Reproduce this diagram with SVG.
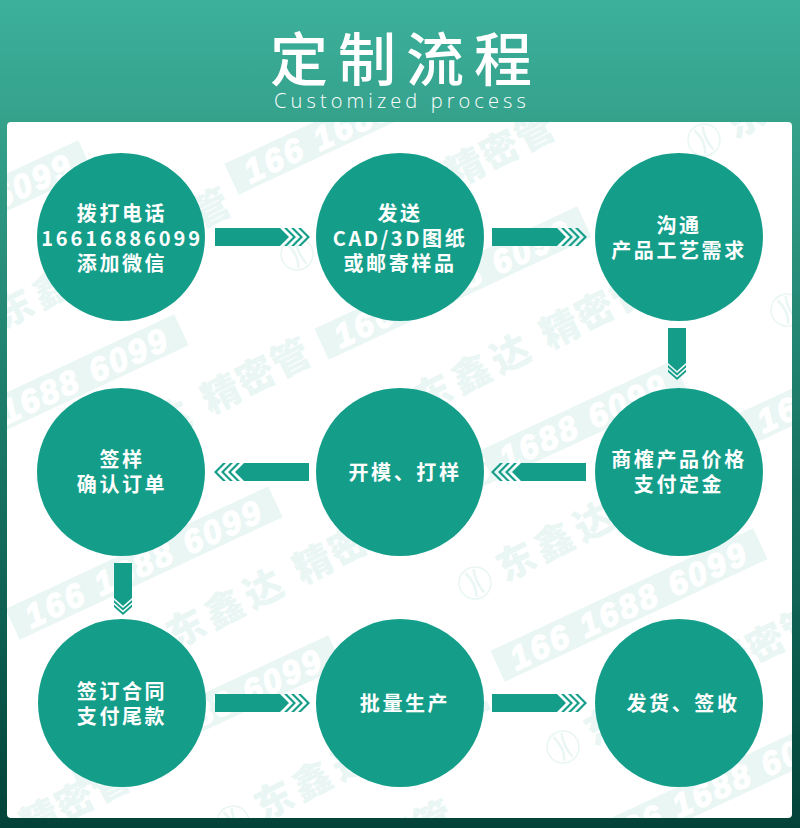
<svg xmlns="http://www.w3.org/2000/svg" xmlns:xlink="http://www.w3.org/1999/xlink" width="800" height="828" viewBox="0 0 800 828">
<style>
.t{font-family:"Noto Sans CJK SC","Liberation Sans",sans-serif;font-size:20px;font-weight:700;fill:#fff;text-anchor:middle;letter-spacing:2.6px}
.c{fill:#149e8a}
.wm{font-family:"Noto Sans CJK SC","Liberation Sans",sans-serif;font-weight:900;fill:#e9f6f4}
.bd{font-family:"Liberation Sans",sans-serif;font-weight:700;font-style:italic;font-size:33px;fill:#fff;stroke:#fff;stroke-width:1.5px;letter-spacing:3px;text-anchor:middle}
</style>
<defs>
<linearGradient id="bg" x1="0" y1="0" x2="0" y2="1">
<stop offset="0" stop-color="#3cb09b"/><stop offset=".14" stop-color="#35a28c"/><stop offset=".45" stop-color="#1f806e"/><stop offset=".8" stop-color="#0b5a4d"/><stop offset="1" stop-color="#034238"/>
</linearGradient>
<clipPath id="card"><rect x="7" y="122" width="785" height="696" rx="4"/></clipPath>
<g id="band" transform="rotate(-25)">
<rect x="-145" y="-17" width="290" height="34" fill="#e9f6f4"/>
<text class="bd" x="0" y="12">166 1688 6099</text>
</g>
<g id="brand" transform="rotate(-27)">
<circle cx="0" cy="0" r="16" fill="none" stroke="#e9f6f4" stroke-width="1.500"/>
<path d="M-4-13C-1-5-1 5-5 13M5-13C2-5 2 5 4 13" fill="none" stroke="#e9f6f4" stroke-width="2.500"/>
<text class="wm" font-size="38" y="13" x="27">东</text>
<text class="wm" font-size="38" y="13" x="70">鑫</text>
<text class="wm" font-size="38" y="13" x="114">达</text>
<text class="wm" font-size="38" y="13" x="170">精</text>
<text class="wm" font-size="38" y="13" x="209">密</text>
<text class="wm" font-size="38" y="13" x="248">管</text>
</g>
<g id="ah">
<path class="c" d="M0-9H65L74 0 65 9H0Z"/>
<path class="c" d="M69-9h3l9 9-9 9h-3l9-9zM76-9h3l9 9-9 9h-3l9-9zM83-9h3l9 9-9 9h-3l9-9z"/>
</g>
<g id="av">
<path class="c" d="M-9 0H9V35L0 43-9 35Z"/>
<path class="c" d="M-9 37 0 45 9 37V39.500L0 47.500-9 39.500ZM-9 41.500 0 49.500 9 41.500V44L0 52-9 44Z"/>
</g>
</defs>
<rect id="background" width="800" height="828" fill="url(#bg)"/>
<g id="heading" fill="#fff" text-anchor="middle">
<text x="406" y="81" font-family="'Noto Sans CJK SC',sans-serif" font-size="58" font-weight="500" letter-spacing="10">定制流程</text>
<text x="402" y="108" font-family="'Open Sans','Liberation Sans',sans-serif" font-size="20" font-weight="300" letter-spacing="4.100">Customized process</text>
</g>
<rect id="panel" x="7" y="122" width="785" height="696" rx="4" fill="#fff"/>
<g id="watermark" clip-path="url(#card)">
<use xlink:href="#band" transform="translate(629,605)"/>
<use xlink:href="#band" transform="translate(50,391)"/>
<use xlink:href="#band" transform="translate(144,563)"/>
<use xlink:href="#band" transform="translate(453,283)"/>
<use xlink:href="#band" transform="translate(363,118)"/>
<use xlink:href="#band" transform="translate(-46,217)"/>
<use xlink:href="#band" transform="translate(549,437)"/>
<use xlink:href="#band" transform="translate(876,368)"/>
<use xlink:href="#band" transform="translate(204,712)"/>
<use xlink:href="#band" transform="translate(722,785)"/>
<use xlink:href="#brand" transform="translate(475,583)"/>
<use xlink:href="#brand" transform="translate(145,650)"/>
<use xlink:href="#brand" transform="translate(233,822)"/>
<use xlink:href="#brand" transform="translate(-27,330)"/>
<use xlink:href="#brand" transform="translate(53,480)"/>
<use xlink:href="#brand" transform="translate(297,254)"/>
<use xlink:href="#brand" transform="translate(704,140)"/>
<use xlink:href="#brand" transform="translate(563,747)"/>
<use xlink:href="#brand" transform="translate(787,310)"/>
<use xlink:href="#brand" transform="translate(392,415)"/>
<use xlink:href="#brand" transform="translate(-128,905)"/>
<use xlink:href="#brand" transform="translate(196,942)"/>
</g>
<g id="connectors">
<use xlink:href="#ah" transform="translate(215,237)"/>
<use xlink:href="#ah" transform="translate(492,237)"/>
<use xlink:href="#av" transform="translate(677,328)"/>
<use xlink:href="#ah" transform="translate(586,472) scale(-1,1)"/>
<use xlink:href="#ah" transform="translate(309,472) scale(-1,1)"/>
<use xlink:href="#av" transform="translate(123,563)"/>
<use xlink:href="#ah" transform="translate(215,703)"/>
<use xlink:href="#ah" transform="translate(492,703)"/>
</g>
<g id="n1"><circle class="c" cx="121" cy="237" r="84"/><text class="t" x="122" y="221">拨打电话</text><text class="t" x="122" y="246" style="letter-spacing:2.900px">16616886099</text><text class="t" x="122" y="271">添加微信</text></g>
<g id="n2"><circle class="c" cx="400" cy="237" r="84"/><text class="t" x="400" y="221">发送</text><text class="t" x="400" y="246">CAD/3D图纸</text><text class="t" x="400" y="271">或邮寄样品</text></g>
<g id="n3"><circle class="c" cx="679" cy="237" r="84"/><text class="t" x="679" y="233">沟通</text><text class="t" x="679" y="258">产品工艺需求</text></g>
<g id="n4"><circle class="c" cx="679" cy="472" r="84"/><text class="t" x="679" y="467">商榷产品价格</text><text class="t" x="679" y="492">支付定金</text></g>
<g id="n5"><circle class="c" cx="400" cy="472" r="84"/><text class="t" x="405" y="480">开模、打样</text></g>
<g id="n6"><circle class="c" cx="121" cy="472" r="84"/><text class="t" x="122" y="467">签样</text><text class="t" x="122" y="492">确认订单</text></g>
<g id="n7"><circle class="c" cx="122" cy="703" r="84"/><text class="t" x="122" y="699">签订合同</text><text class="t" x="122" y="724">支付尾款</text></g>
<g id="n8"><circle class="c" cx="400" cy="703" r="84"/><text class="t" x="405" y="711">批量生产</text></g>
<g id="n9"><circle class="c" cx="679" cy="703" r="84"/><text class="t" x="683" y="711">发货、签收</text></g>
</svg>
